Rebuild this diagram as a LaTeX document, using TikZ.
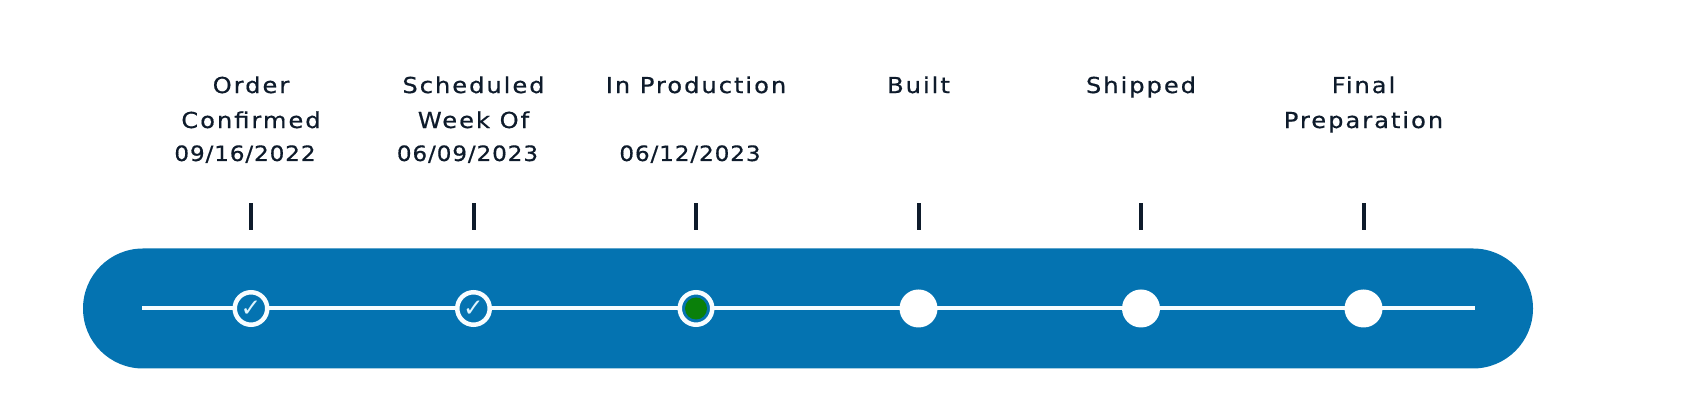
\documentclass[tikz,border=0pt]{standalone}
\usepackage{fontspec}
\usetikzlibrary{positioning}
\newfontfamily\steplabelfont{DejaVu Sans}[LetterSpace=9,FakeStretch=1.1,FakeBold=0.6]
\newfontfamily\stepdatefont{DejaVu Sans}[LetterSpace=4,FakeStretch=1.1,FakeBold=0.6]
\newfontfamily\checkfont{DejaVu Sans}
\definecolor{TrackBlue}{HTML}{0473B1}
\definecolor{InkNavy}{HTML}{0E1B2B}
\definecolor{LineWhite}{HTML}{F8FDFF}
\definecolor{CheckCyan}{HTML}{DDF5FF}
\definecolor{NowGreen}{HTML}{0A800A}

\begin{document}
\begin{tikzpicture}[node distance=4.45cm, on grid,
  steplbl/.style={anchor=north, inner sep=0pt, align=center, text=InkNavy,
    font=\steplabelfont\fontsize{12.5}{19.9}\selectfont},
  datelbl/.style={anchor=base, inner sep=0pt, text=InkNavy,
    font=\stepdatefont\fontsize{12}{14}\selectfont},
  done/.style={circle, draw=LineWhite, line width=0.09cm, fill=TrackBlue,
    minimum size=0.65cm, inner sep=0pt, text=CheckCyan,
    font=\checkfont\fontsize{14}{14}\selectfont},
  todo/.style={circle, fill=white, minimum size=0.76cm, inner sep=0pt},
  tick/.style={fill=InkNavy, minimum width=0.08cm, minimum height=0.54cm, inner sep=0pt}]
  \useasboundingbox (0,0) rectangle (33.98,8.12);
  % track
  \node[fill=TrackBlue, rounded corners=1.2cm, minimum width=29cm, minimum height=2.4cm] (bar) at (16.16,1.95) {};
  \coordinate (s1pos) at (5.02,1.95);
  \coordinate[left=2.18cm of s1pos] (lstart);
  \coordinate[right=24.48cm of s1pos] (lend);
  \draw[LineWhite, line width=0.08cm] (lstart) -- (lend);
  % stages
  \node[done] (s1) at (s1pos) {✓};
  \node[done, right=of s1] (s2) {✓};
  \node[done, right=of s2] (s3) {};
  \node[circle, fill=NowGreen, minimum size=0.44cm, inner sep=0pt] (now) at (s3) {};
  \node[todo, right=of s3] (s4) {};
  \node[todo, right=of s4] (s5) {};
  \node[todo, right=of s5] (s6) {};
  % ticks
  \node[tick, above=1.84cm of s1] (t1) {};
  \node[tick, above=1.84cm of s2] (t2) {};
  \node[tick, above=1.84cm of s3] (t3) {};
  \node[tick, above=1.84cm of s4] (t4) {};
  \node[tick, above=1.84cm of s5] (t5) {};
  \node[tick, above=1.84cm of s6] (t6) {};
  % labels
  \node[steplbl] (l1) at ([yshift=4.65cm]s1) {Order\\Confirmed};
  \node[steplbl] (l2) at ([yshift=4.65cm]s2) {Scheduled\\Week Of};
  \node[steplbl] (l3) at ([yshift=4.65cm]s3) {In Production};
  \node[steplbl] (l4) at ([yshift=4.65cm]s4) {Built};
  \node[steplbl] (l5) at ([yshift=4.65cm]s5) {Shipped};
  \node[steplbl] (l6) at ([yshift=4.65cm]s6) {Final\\Preparation};
  % dates
  \node[datelbl] (d1) at ([shift={(-0.12,2.95)}]s1) {09/16/2022};
  \node[datelbl] (d2) at ([shift={(-0.12,2.95)}]s2) {06/09/2023};
  \node[datelbl] (d3) at ([shift={(-0.12,2.95)}]s3) {06/12/2023};
\end{tikzpicture}
\end{document}
